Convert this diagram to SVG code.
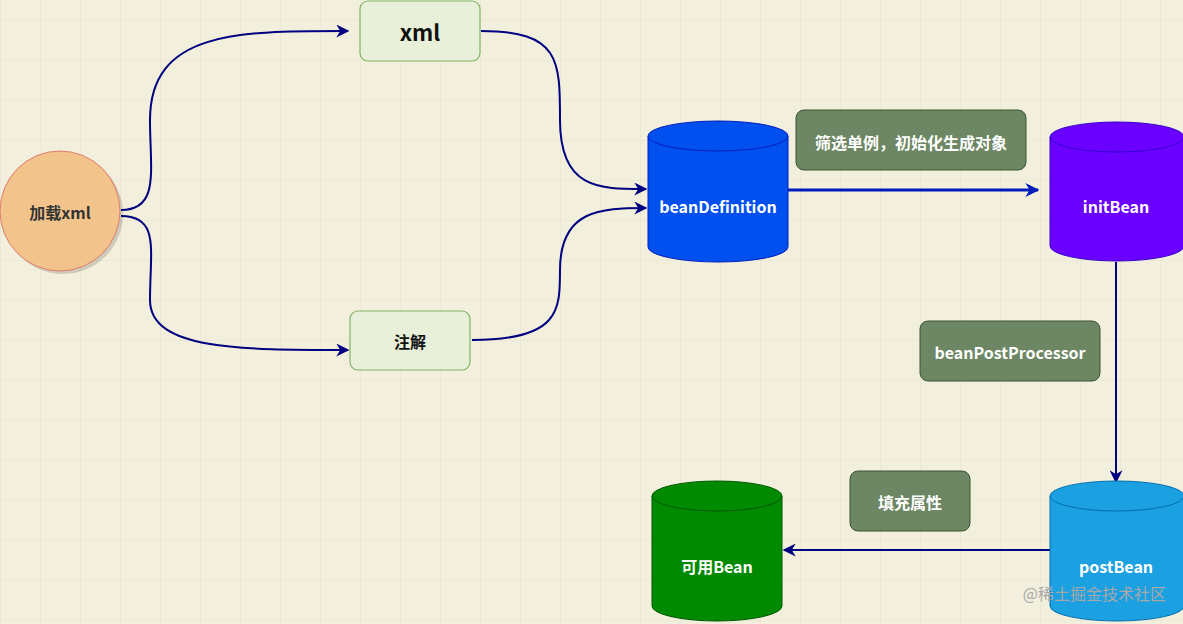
<svg xmlns="http://www.w3.org/2000/svg" width="1183" height="624" viewBox="0 0 1183 624">
<defs>
<pattern id="grid" x="0" y="20" width="40" height="40" patternUnits="userSpaceOnUse">
<path d="M0 0V40M0 0H40" fill="none" stroke="#e6e2cf" stroke-width="1"/>
</pattern>
<marker id="ah2" viewBox="0 0 10 10" refX="9" refY="5" markerWidth="14" markerHeight="14" orient="auto" markerUnits="userSpaceOnUse">
<path d="M0 0L10 5L0 10L3 5Z" fill="#001dbc"/>
</marker>
<marker id="ah3" viewBox="0 0 10 10" refX="9" refY="5" markerWidth="13" markerHeight="13" orient="auto" markerUnits="userSpaceOnUse">
<path d="M0 0L10 5L0 10L3 5Z" fill="#000080"/>
</marker>
</defs>
<style>
.t{font-family:"Comic Sans MS","Noto Sans CJK SC","Liberation Sans",sans-serif;font-weight:bold;text-anchor:middle;dominant-baseline:central}
.w{fill:#fff;font-size:16px}
.g{fill:#6d8764;stroke:#3a5431;stroke-width:1}
.box{fill:#e8f0da;stroke:#82b366;stroke-width:1.2}
.c{fill:none;stroke:#000080;stroke-width:2}
</style>
<rect width="1183" height="624" fill="#f3efdd"/>
<rect width="1183" height="624" fill="url(#grid)"/>
<g id="connectors">
<path class="c" d="M121 210C160 210 150 170 150 120C150 30 240 31 348 31" marker-end="url(#ah3)"/>
<path class="c" d="M121 216C160 216 150 250 150 300C150 350 240 350 348 350" marker-end="url(#ah3)"/>
<path class="c" d="M481 31C560 31 560 60 560 120C560 190 600 189 646 189" marker-end="url(#ah3)"/>
<path class="c" d="M472 340C560 340 560 310 560 270C560 210 600 208 646 208" marker-end="url(#ah3)"/>
<path d="M788 190H1038" fill="none" stroke="#001dbc" stroke-width="3" marker-end="url(#ah2)"/>
<path class="c" d="M1116 262V482" marker-end="url(#ah3)"/>
<path class="c" d="M1050 550H784" marker-end="url(#ah3)"/>
</g>
<g id="load">
<circle cx="60" cy="211" r="60" fill="#000" opacity="0.15" transform="translate(3,3)"/>
<circle cx="60" cy="211" r="60" fill="#f2c38b" stroke="#e07c6b" stroke-width="1"/>
<text class="t" x="60" y="212" font-size="16" fill="#333">加载xml</text>
</g>
<g id="xml">
<rect class="box" x="360" y="1" width="120" height="60" rx="8"/>
<text class="t" x="420" y="31" font-size="22" fill="#111">xml</text>
</g>
<g id="anno">
<rect class="box" x="350" y="311" width="120" height="59" rx="8"/>
<text class="t" x="410" y="341" font-size="16" fill="#111">注解</text>
</g>
<g id="beanDefinition">
<path d="M648 136V247A70 15 0 0 0 788 247V136Z" fill="#0050ef" stroke="#001dbc"/>
<ellipse cx="718" cy="136" rx="70" ry="15" fill="#0050ef" stroke="#001dbc"/>
<text class="t w" x="718" y="206">beanDefinition</text>
</g>
<g id="label1">
<rect class="g" x="796" y="110" width="230" height="60" rx="8"/>
<text class="t w" x="911" y="142">筛选单例，初始化生成对象</text>
</g>
<g id="initBean">
<path d="M1050 137V246A67 15 0 0 0 1184 246V137Z" fill="#6a00ff" stroke="#3700cc"/>
<ellipse cx="1117" cy="137" rx="67" ry="15" fill="#6a00ff" stroke="#3700cc"/>
<text class="t w" x="1116" y="206">initBean</text>
</g>
<g id="label2">
<rect class="g" x="920" y="321" width="180" height="60" rx="8"/>
<text class="t w" x="1010" y="352">beanPostProcessor</text>
</g>
<g id="postBean">
<path d="M1050 496V606A67 15 0 0 0 1184 606V496Z" fill="#1ba1e2" stroke="#006eaf"/>
<ellipse cx="1117" cy="496" rx="67" ry="15" fill="#1ba1e2" stroke="#006eaf"/>
<text class="t w" x="1116" y="566">postBean</text>
</g>
<g id="label3">
<rect class="g" x="850" y="471" width="120" height="60" rx="8"/>
<text class="t w" x="910" y="502">填充属性</text>
</g>
<g id="usable">
<path d="M652 496V606A65 15 0 0 0 782 606V496Z" fill="#008a00" stroke="#005700"/>
<ellipse cx="717" cy="496" rx="65" ry="15" fill="#008a00" stroke="#005700"/>
<text class="t w" x="717" y="566">可用Bean</text>
</g>
<text x="1166" y="600" font-family="'Noto Sans CJK SC',sans-serif" font-size="16" fill="#a8a8a8" text-anchor="end">@稀土掘金技术社区</text>
</svg>
